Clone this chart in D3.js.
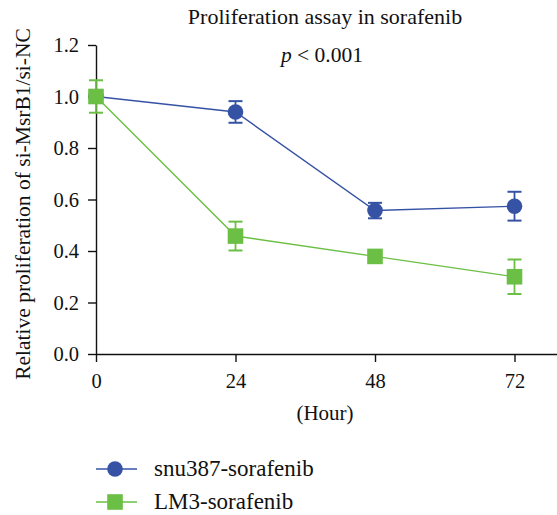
<!DOCTYPE html>
<html>
<head>
<meta charset="utf-8">
<script src="https://cdn.jsdelivr.net/npm/d3@7"></script>
<style>
  body { margin: 0; background: #fff; }
</style>
</head>
<body>
<svg id="chart" width="557" height="515"></svg>
<script>
// data
const hours = [0, 24, 48, 72];
const snuMean = [1.0, 0.94, 0.557, 0.574];
const snuErr = [0.0, 0.042, 0.03, 0.056];
const lm3Mean = [1.0, 0.458, 0.379, 0.300];
const lm3Err = [0.063, 0.056, 0.01, 0.067];
const yTicks = [0, 0.2, 0.4, 0.6, 0.8, 1.0, 1.2];

const blue = "#3652a5", green = "#6cbf45";
const serif = (t, size) => t.style("font-family", "'Liberation Serif'").style("font-size", size + "px").style("fill", "#111");

const svg = d3.select("#chart");
const x = d3.scaleLinear().domain([0, 80]).range([96, 561]);
const y = d3.scaleLinear().domain([0, 1.2]).range([354, 45]);

// axes
const yAxis = svg.append("g").attr("transform", "translate(96,0)")
  .call(d3.axisLeft(y).tickValues(yTicks).tickFormat(d3.format(".1f")).tickSize(8).tickPadding(9).tickSizeOuter(0));
const xAxis = svg.append("g").attr("transform", "translate(0,354)")
  .call(d3.axisBottom(x).tickValues(hours).tickSize(8).tickPadding(11).tickSizeOuter(0));
[yAxis, xAxis].forEach(g => {
  g.selectAll("path, line").attr("stroke", "#111").attr("stroke-width", 1.4);
  serif(g.selectAll("text"), 20.5);
});

const series = [
  { name: "snu387-sorafenib", mean: snuMean, err: snuErr, color: blue, shape: "circle" },
  { name: "LM3-sorafenib", mean: lm3Mean, err: lm3Err, color: green, shape: "square" }
];

const line = d3.line().x(d => x(d[0])).y(d => y(d[1]));

function marker(g, s, cx, cy) {
  if (s.shape === "circle") {
    g.append("circle").attr("cx", cx).attr("cy", cy).attr("r", 7.8).attr("fill", s.color);
  } else {
    g.append("rect").attr("x", cx - 7.8).attr("y", cy - 7.8).attr("width", 15.6).attr("height", 15.6).attr("fill", s.color);
  }
}

series.forEach(s => {
  const g = svg.append("g");
  const pts = hours.map((h, i) => [h, s.mean[i], s.err[i]]);
  g.append("path").datum(pts).attr("d", line).attr("fill", "none").attr("stroke", s.color).attr("stroke-width", 1.4);
  pts.forEach(p => {
    if (p[2] > 0) {
      const cx = x(p[0]);
      g.append("line").attr("x1", cx).attr("x2", cx).attr("y1", y(p[1] + p[2])).attr("y2", y(p[1] - p[2]))
        .attr("stroke", s.color).attr("stroke-width", 1.8);
      [p[1] + p[2], p[1] - p[2]].forEach(v => {
        g.append("line").attr("x1", cx - 7).attr("x2", cx + 7).attr("y1", y(v)).attr("y2", y(v))
          .attr("stroke", s.color).attr("stroke-width", 2);
      });
    }
    marker(g, s, x(p[0]), y(p[1]));
  });
});

// titles
serif(svg.append("text").attr("x", 325).attr("y", 24).attr("text-anchor", "middle"), 22)
  .text("Proliferation assay in sorafenib");
const pt = serif(svg.append("text").attr("x", 322).attr("y", 62).attr("text-anchor", "middle"), 21.5);
pt.append("tspan").style("font-style", "italic").text("p");
pt.append("tspan").text(" < 0.001");
serif(svg.append("text").attr("x", 325).attr("y", 420).attr("text-anchor", "middle"), 21).text("(Hour)");
serif(svg.append("text").attr("transform", "translate(30,204) rotate(-90)").attr("text-anchor", "middle"), 21.5)
  .text("Relative proliferation of si-MsrB1/si-NC");

// legend
series.forEach((s, i) => {
  const ly = 469 + i * 33;
  const g = svg.append("g");
  g.append("line").attr("x1", 96).attr("x2", 137).attr("y1", ly).attr("y2", ly).attr("stroke", s.color).attr("stroke-width", 1.4);
  marker(g, s, 115, ly);
  serif(g.append("text").attr("x", 154).attr("y", ly + 7), 23).text(s.name);
});
</script>
</body>
</html>
